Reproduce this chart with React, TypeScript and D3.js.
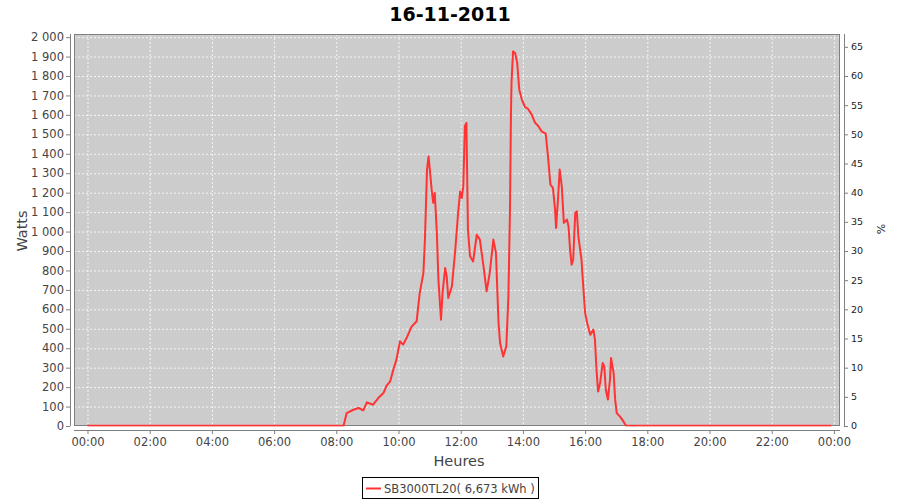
import React from "react";
import * as d3 from "d3";

const title = "16-11-2011";
const seriesName = "SB3000TL20( 6,673 kWh )";

const times = [
  "00:00","08:10","08:14","08:20","08:33","08:43","08:52","08:59","09:11","09:21","09:31","09:37","09:44","09:50","09:56",
  "10:03","10:09","10:17","10:25","10:35","10:41","10:48","10:51","10:55","10:58","11:04","11:07","11:10","11:14","11:17",
  "11:22","11:25","11:30","11:33","11:36","11:43","11:49","11:55","11:59","12:02","12:05","12:08","12:11","12:14","12:18",
  "12:24","12:31","12:37","12:44","12:50","12:56","13:03","13:08","13:13","13:16","13:22","13:28","13:32","13:35","13:37",
  "13:38","13:41","13:45","13:49","13:53","13:58","14:04","14:10","14:17","14:23","14:30","14:36","14:44","14:49","14:53",
  "14:58","15:02","15:04","15:08","15:11","15:15","15:19","15:25","15:28","15:31","15:34","15:37","15:41","15:44","15:47",
  "15:53","15:56","16:00","16:04","16:10","16:16","16:19","16:22","16:25","16:29","16:34","16:37","16:40","16:44","16:48",
  "16:50","16:55","16:58","17:01","17:07","17:14","17:19","23:55"
];
const watts = [
  0,0,0,65,82,91,79,120,108,142,168,206,228,288,340,
  434,417,459,508,537,683,785,957,1317,1385,1214,1146,1197,991,751,
  545,683,811,768,657,717,888,1094,1205,1171,1231,1540,1557,1008,871,
  845,982,957,819,691,785,957,888,528,425,356,408,665,1094,1608,
  1763,1925,1917,1866,1728,1677,1639,1629,1600,1560,1540,1514,1502,1368,1240,
  1223,1111,1017,1180,1317,1231,1043,1060,1025,905,828,854,1094,1102,974,
  854,734,580,528,468,494,442,288,176,220,323,305,185,134,237,
  348,271,134,65,48,22,0,0
];

const leftTicks = d3.range(0, 2001, 100);
const rightTicks = d3.range(0, 66, 5);
const hourTicks = [0, 2, 4, 6, 8, 10, 12, 14, 16, 18, 20, 22, 24];

const toHours = (s: string) => {
  const [h, m] = s.split(":").map(Number);
  return h + m / 60;
};
const fmtW = (v: number) => {
  const s = String(v);
  return s.length > 3 ? s.slice(0, s.length - 3) + "\u00a0" + s.slice(-3) : s;
};
const fmtH = (h: number) => String(h % 24).padStart(2, "0") + ":00";

export default function App() {
  const W = 900, H = 500;
  const pL = 74, pR = 840, pT = 34, pB = 426;
  const x = d3.scaleLinear().domain([-0.434, 24.196]).range([pL, pR]);
  const y = d3.scaleLinear().domain([0, 2016]).range([pB, pT]);
  const yR = d3.scaleLinear().domain([0, 67.2]).range([pB, pT]);
  const pts = times.map((t, i) => [toHours(t), watts[i]] as [number, number]);
  const line = d3.line<[number, number]>().x(d => x(d[0])).y(d => y(d[1]) - 0.3)(pts) || "";
  const font = "DejaVu Sans, Verdana, sans-serif";
  const tickCol = "#444444";
  const axisCol = "#808080";

  return (
    <svg width={W} height={H} style={{ position: "absolute", left: 0, top: 0, background: "#fff" }} fontFamily={font}>
      <defs>
        <clipPath id="plotClip">
          <rect x={pL} y={pT - 1} width={pR - pL} height={pB - pT + 1.6} />
        </clipPath>
      </defs>
      <rect x={0} y={0} width={W} height={H} fill="#fff" />
      <text x={450} y={21} textAnchor="middle" fontSize={19} fontWeight="bold" fill="#000">{title}</text>

      <rect x={pL} y={pT} width={pR - pL} height={pB - pT} fill="#cccccc" />
      {leftTicks.map(v => (
        <line key={"gy" + v} x1={pL} x2={pR} y1={y(v) + 0.5} y2={y(v) + 0.5} stroke="#ffffff" strokeWidth={0.8} strokeDasharray="2,2" />
      ))}
      {hourTicks.map(h => (
        <line key={"gx" + h} x1={x(h) + 0.5} x2={x(h) + 0.5} y1={pT} y2={pB} stroke="#ffffff" strokeWidth={0.8} strokeDasharray="2,2" />
      ))}
      <rect x={pL + 0.5} y={pT + 0.5} width={pR - pL - 1} height={pB - pT - 1} fill="none" stroke={axisCol} strokeWidth={1} />
      <path d={line} fill="none" stroke="#ff3333" strokeWidth={2} strokeLinejoin="round" clipPath="url(#plotClip)" />

      {/* left axis */}
      <line x1={70.5} x2={70.5} y1={pT} y2={pB} stroke={axisCol} />
      {leftTicks.map(v => (
        <g key={"ly" + v}>
          <line x1={66} x2={70} y1={y(v) + 0.5} y2={y(v) + 0.5} stroke={axisCol} />
          <text x={64} y={y(v)} dy="0.36em" textAnchor="end" fontSize={11.5} fill={tickCol}>{fmtW(v)}</text>
        </g>
      ))}
      <text transform={`translate(26.5,231) rotate(-90)`} textAnchor="middle" fontSize={14.5} fill={tickCol}>Watts</text>

      {/* bottom axis */}
      <line x1={pL} x2={pR} y1={430.5} y2={430.5} stroke={axisCol} />
      {hourTicks.map(h => (
        <g key={"lx" + h}>
          <line x1={x(h) + 0.5} x2={x(h) + 0.5} y1={430} y2={434} stroke={axisCol} />
          <text x={x(h) + 0.5} y={446} textAnchor="middle" fontSize={11.5} fill={tickCol}>{fmtH(h)}</text>
        </g>
      ))}
      <text x={459} y={466} textAnchor="middle" fontSize={14.5} fill={tickCol}>Heures</text>

      {/* right axis */}
      <line x1={844.5} x2={844.5} y1={pT} y2={pB} stroke={axisCol} />
      {rightTicks.map(v => (
        <g key={"ry" + v}>
          <line x1={844} x2={848} y1={yR(v) + 0.5} y2={yR(v) + 0.5} stroke={axisCol} />
          <text x={851} y={yR(v)} dy="0.36em" textAnchor="start" fontSize={9.5} fill="#222">{v}</text>
        </g>
      ))}
      <text transform={`translate(885,229) rotate(-90)`} textAnchor="middle" fontSize={11} fill="#222">%</text>

      {/* legend */}
      <rect x={362.5} y={477.5} width={176} height={21} fill="#fff" stroke="#000" />
      <line x1={366} x2={381} y1={488.5} y2={488.5} stroke="#ff3333" strokeWidth={2} />
      <text x={384} y={492.5} fontSize={11.5} fill={tickCol}>{seriesName}</text>
    </svg>
  );
}
